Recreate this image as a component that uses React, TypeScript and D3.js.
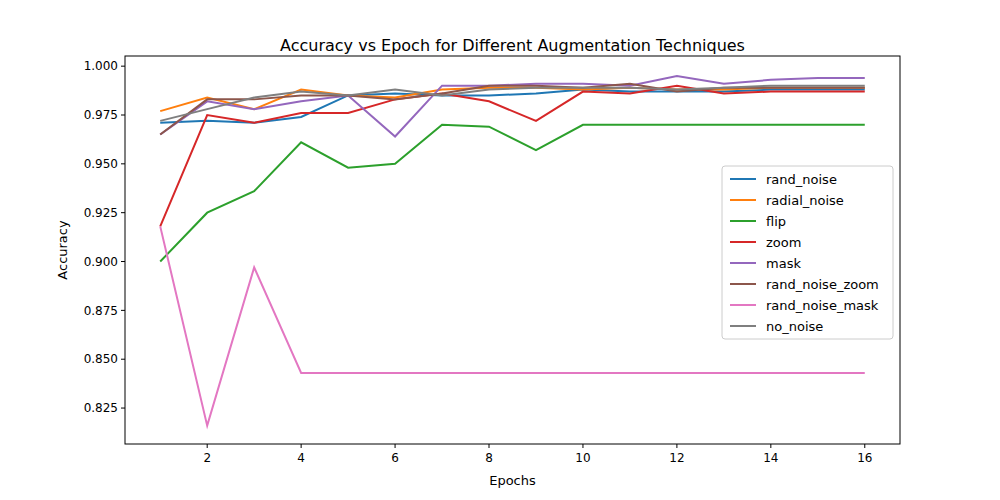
import React from 'react';
import * as d3 from 'd3';

const epochs = d3.range(1, 17);
const seriesNames = ['rand_noise', 'radial_noise', 'flip', 'zoom', 'mask', 'rand_noise_zoom', 'rand_noise_mask', 'no_noise'];
const colors = ['#1f77b4', '#ff7f0e', '#2ca02c', '#d62728', '#9467bd', '#8c564b', '#e377c2', '#7f7f7f'];

const randNoise = [0.971, 0.972, 0.971, 0.974, 0.985, 0.986, 0.985, 0.985, 0.986, 0.988, 0.987, 0.987, 0.987, 0.988, 0.988, 0.988];
const radialNoise = [0.977, 0.984, 0.978, 0.988, 0.985, 0.984, 0.988, 0.989, 0.989, 0.988, 0.989, 0.988, 0.988, 0.989, 0.989, 0.989];
const flip = [0.900, 0.925, 0.936, 0.961, 0.948, 0.950, 0.970, 0.969, 0.957, 0.970, 0.970, 0.970, 0.970, 0.970, 0.970, 0.970];
const zoom = [0.918, 0.975, 0.971, 0.976, 0.976, 0.983, 0.986, 0.982, 0.972, 0.987, 0.986, 0.990, 0.986, 0.987, 0.987, 0.987];
const mask = [0.965, 0.982, 0.978, 0.982, 0.985, 0.964, 0.990, 0.990, 0.991, 0.991, 0.990, 0.995, 0.991, 0.993, 0.994, 0.994];
const randNoiseZoom = [0.965, 0.983, 0.983, 0.985, 0.985, 0.983, 0.986, 0.990, 0.990, 0.989, 0.991, 0.987, 0.989, 0.989, 0.989, 0.989];
const randNoiseMask = [0.918, 0.816, 0.897, 0.843, 0.843, 0.843, 0.843, 0.843, 0.843, 0.843, 0.843, 0.843, 0.843, 0.843, 0.843, 0.843];
const noNoise = [0.972, 0.978, 0.984, 0.987, 0.985, 0.988, 0.985, 0.988, 0.989, 0.989, 0.989, 0.988, 0.989, 0.990, 0.990, 0.990];

const allSeries = [randNoise, radialNoise, flip, zoom, mask, randNoiseZoom, randNoiseMask, noNoise];
const xTicks = [2, 4, 6, 8, 10, 12, 14, 16];
const yTicks = [0.825, 0.85, 0.875, 0.9, 0.925, 0.95, 0.975, 1.0];

const W = 1000, H = 500;
const m = { left: 125, right: 900, top: 56, bottom: 444 };
const font = 'DejaVu Sans, sans-serif';

export default function App() {
  const x = d3.scaleLinear().domain([0.25, 16.75]).range([m.left, m.right]);
  const y = d3.scaleLinear().domain([0.8066, 1.0052]).range([m.bottom, m.top]);
  const line = d3.line<number>().x((_, i) => x(epochs[i])).y(d => y(d));
  const lx = 722, ly = 166;
  return (
    <svg width={W} height={H} style={{ position: 'absolute', left: 0, top: 0 }} fontFamily={font}>
      <rect width={W} height={H} fill="#fff" />
      <text x={(m.left + m.right) / 2} y={51} textAnchor="middle" fontSize={16}>Accuracy vs Epoch for Different Augmentation Techniques</text>
      {allSeries.map((s, i) => (
        <path key={i} d={line(s) || ''} fill="none" stroke={colors[i]} strokeWidth={2} />
      ))}
      <rect x={m.left} y={m.top} width={m.right - m.left} height={m.bottom - m.top} fill="none" stroke="#000" strokeWidth={1} />
      {xTicks.map(t => (
        <g key={t} transform={`translate(${x(t)},${m.bottom})`}>
          <line y2={4} stroke="#000" />
          <text y={18} textAnchor="middle" fontSize={12}>{t}</text>
        </g>
      ))}
      {yTicks.map(t => (
        <g key={t} transform={`translate(${m.left},${y(t)})`}>
          <line x2={-4} stroke="#000" />
          <text x={-7} dy="0.35em" textAnchor="end" fontSize={12}>{t.toFixed(3)}</text>
        </g>
      ))}
      <text x={(m.left + m.right) / 2} y={485} textAnchor="middle" fontSize={13}>Epochs</text>
      <text transform={`translate(67,${(m.top + m.bottom) / 2}) rotate(-90)`} textAnchor="middle" fontSize={13}>Accuracy</text>
      <rect x={lx} y={ly} width={171} height={173} rx={3} fill="#fff" fillOpacity={0.8} stroke="#ccc" />
      {seriesNames.map((n, i) => (
        <g key={n} transform={`translate(${lx + 8},${ly + 13 + i * 21})`}>
          <line x1={0} x2={26} stroke={colors[i]} strokeWidth={2} />
          <text x={36} dy="0.35em" fontSize={13}>{n}</text>
        </g>
      ))}
    </svg>
  );
}
